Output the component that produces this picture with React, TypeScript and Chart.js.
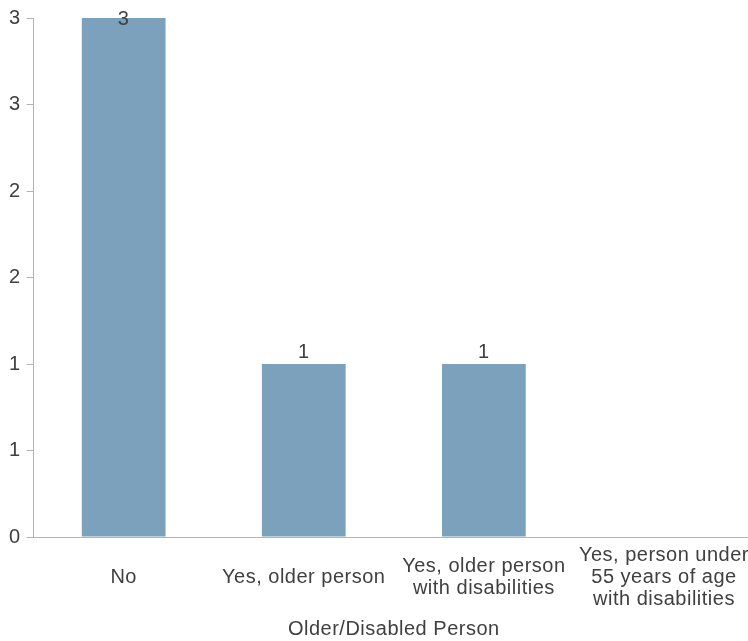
import React, { useEffect, useRef } from "react";
import { Chart, registerables } from "chart.js";

Chart.register(...registerables);

// Categories and counts
const categories: (string | string[])[] = [
  "No",
  "Yes, older person",
  ["Yes, older person", "with disabilities"],
  ["Yes, person under", "55 years of age", "with disabilities"],
];
const counts = [3, 1, 1, 0];
const yMin = 0;
const yMax = 3;
const yStep = 0.5;
const xAxisTitle = "Older/Disabled Person";

const BAR_COLOR = "#7ba1bd";
const TEXT_COLOR = "#404040";
const AXIS_COLOR = "#b4b4b4";
const FONT_FAMILY = "'Liberation Sans', Arial, sans-serif";
const LETTER_SPACING = "0.5px";
const X_AXIS_HEIGHT = 104;

// Slightly wider glyph spacing for every text drawn on the canvas
const letterSpacingPlugin = {
  id: "letterSpacing",
  beforeUpdate(chart: any) {
    chart.ctx.letterSpacing = LETTER_SPACING;
  },
  beforeDraw(chart: any) {
    chart.ctx.letterSpacing = LETTER_SPACING;
  },
};

// Count labels above each bar (kept inside the canvas for the tallest bar)
const valueLabelPlugin = {
  id: "valueLabels",
  afterDatasetsDraw(chart: any) {
    const ctx = chart.ctx;
    const meta = chart.getDatasetMeta(0);
    ctx.save();
    ctx.letterSpacing = LETTER_SPACING;
    ctx.font = `20px ${FONT_FAMILY}`;
    ctx.fillStyle = TEXT_COLOR;
    ctx.textAlign = "center";
    ctx.textBaseline = "alphabetic";
    meta.data.forEach((bar: any, i: number) => {
      const v = counts[i];
      if (!v) return;
      const y = Math.max(bar.y - 6, 25);
      ctx.fillText(String(v), bar.x, y);
    });
    ctx.restore();
  },
};

export default function App() {
  const canvasRef = useRef<HTMLCanvasElement | null>(null);

  useEffect(() => {
    const canvas = canvasRef.current;
    if (!canvas) return;
    const chart = new Chart(canvas, {
      type: "bar",
      data: {
        labels: categories,
        datasets: [
          {
            data: counts,
            backgroundColor: BAR_COLOR,
            borderWidth: 0,
            categoryPercentage: 1,
            barPercentage: 0.465,
          },
        ],
      },
      options: {
        responsive: false,
        animation: false,
        layout: { padding: { top: 16, left: 3, right: 0, bottom: 0 } },
        plugins: {
          legend: { display: false },
          tooltip: { enabled: false },
        },
        scales: {
          x: {
            grid: { display: false, drawTicks: false },
            border: { display: true, color: AXIS_COLOR, width: 1 },
            afterFit(scale: any) {
              // fixed band for the category labels and title; labels fit within their slots
              scale.height = X_AXIS_HEIGHT;
              scale.paddingLeft = 0;
              scale.paddingRight = 0;
            },
            ticks: {
              color: TEXT_COLOR,
              font: { family: FONT_FAMILY, size: 20, lineHeight: 1.1 },
              padding: 18,
              maxRotation: 0,
              autoSkip: false,
              crossAlign: "center",
            },
            title: {
              display: true,
              text: xAxisTitle,
              color: TEXT_COLOR,
              font: { family: FONT_FAMILY, size: 20, lineHeight: 1.2 },
              padding: { top: 0, bottom: 0 },
            },
          },
          y: {
            min: yMin,
            max: yMax,
            grid: {
              display: true,
              drawOnChartArea: false,
              drawTicks: true,
              tickLength: 7,
              color: AXIS_COLOR,
            },
            border: { display: true, color: AXIS_COLOR, width: 1 },
            ticks: {
              stepSize: yStep,
              color: TEXT_COLOR,
              font: { family: FONT_FAMILY, size: 20 },
              padding: 6,
              callback: (value: any) => String(Math.round(Number(value))),
            },
          },
        },
      },
      plugins: [letterSpacingPlugin, valueLabelPlugin],
    });
    return () => chart.destroy();
  }, []);

  return (
    <div
      style={{
        position: "absolute",
        left: 0,
        top: 0,
        width: 748,
        height: 641,
        overflow: "hidden",
        background: "#ffffff",
      }}
    >
      <canvas ref={canvasRef} width={754} height={641} style={{ display: "block" }} />
    </div>
  );
}
